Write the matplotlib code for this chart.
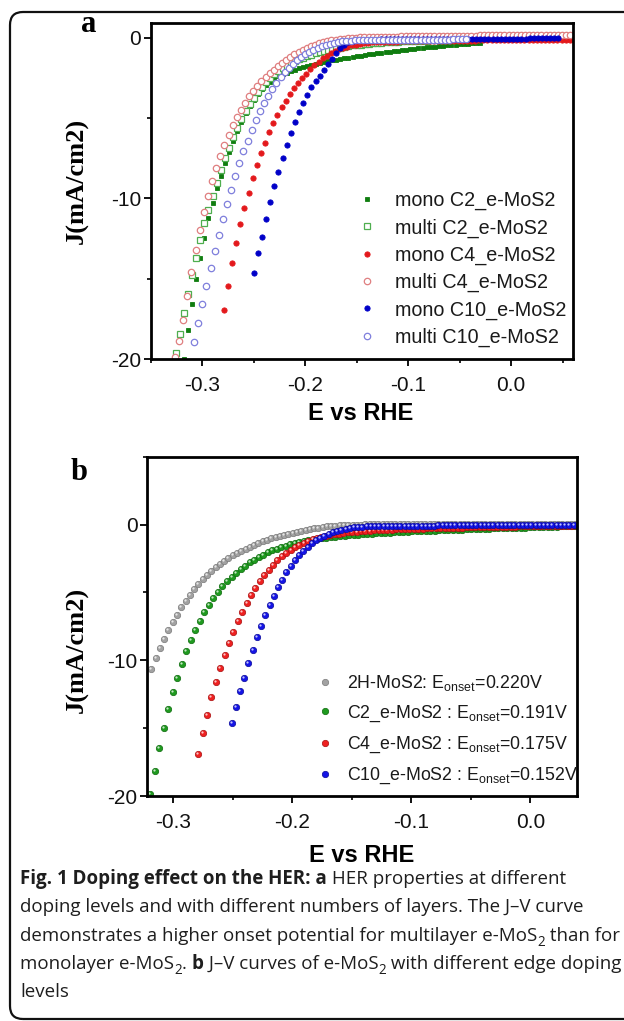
import numpy as np
import matplotlib
matplotlib.use('Agg')
import matplotlib.pyplot as plt
from matplotlib.patches import FancyBboxPatch
from matplotlib.ticker import MultipleLocator
import matplotlib.transforms as mtransforms

plt.rcParams['font.family'] = ['Liberation Sans', 'DejaVu Sans']
plt.rcParams['mathtext.fontset'] = 'custom'
plt.rcParams['mathtext.rm'] = 'Liberation Sans'
plt.rcParams['mathtext.it'] = 'Liberation Sans:italic'
plt.rcParams['mathtext.bf'] = 'Liberation Sans:bold'
plt.rcParams['axes.unicode_minus'] = False

# ---------------- Panel a data (E vs RHE in V, J in mA/cm2) ----------------
labels_a = ['mono C2_e-MoS2', 'multi C2_e-MoS2', 'mono C4_e-MoS2',
            'multi C4_e-MoS2', 'mono C10_e-MoS2', 'multi C10_e-MoS2']
step_a = 0.004
start_a = [-0.318, -0.326, -0.279, -0.3265, -0.250, -0.308]

J_monoC2 = [-20.0, -18.2, -16.57, -15.04, -13.69, -12.44, -11.24, -10.30, -9.33, -8.58,
            -7.77, -7.12, -6.42, -5.79, -5.21, -4.69, -4.24, -3.86, -3.49, -3.20,
            -2.93, -2.72, -2.50, -2.38, -2.27, -2.17, -2.07, -1.98, -1.89, -1.81,
            -1.74, -1.67, -1.61, -1.55, -1.50, -1.45, -1.40, -1.35, -1.31, -1.27,
            -1.23, -1.19, -1.15, -1.11, -1.07, -1.03, -1.00, -0.96, -0.93, -0.89,
            -0.86, -0.83, -0.80, -0.77, -0.74, -0.71, -0.68, -0.65, -0.62, -0.59,
            -0.57, -0.54, -0.52, -0.49, -0.47, -0.44, -0.42, -0.40, -0.38, -0.36,
            -0.34, -0.32, -0.30]
J_multiC2 = [-19.6, -18.46, -17.15, -15.95, -14.77, -13.69, -12.60, -11.55, -10.70, -9.85,
             -9.05, -8.25, -7.50, -6.85, -6.20, -5.62, -5.08, -4.58, -4.13, -3.73,
             -3.37, -3.05, -2.76, -2.50, -2.27, -2.07, -1.89, -1.73, -1.59, -1.46,
             -1.34, -1.23, -1.13, -1.04, -0.96, -0.89, -0.82, -0.76, -0.70, -0.65,
             -0.60, -0.55, -0.51, -0.47, -0.44, -0.41, -0.38, -0.35, -0.33, -0.31,
             -0.29, -0.27, -0.26, -0.24, -0.23, -0.22, -0.21, -0.20, -0.19, -0.18,
             -0.17, -0.16, -0.15, -0.14, -0.13, -0.12, -0.11, -0.10, -0.10, -0.09]
J_monoC4 = [-16.95, -15.45, -14.04, -12.75, -11.61, -10.61, -9.64, -8.74, -7.91, -7.19,
            -6.52, -5.88, -5.32, -4.80, -4.32, -3.90, -3.51, -3.14, -2.82, -2.51,
            -2.22, -1.95, -1.70, -1.47, -1.27, -1.10, -0.95, -0.82, -0.71, -0.62,
            -0.54, -0.47, -0.41, -0.36, -0.32, -0.29,
            -0.27, -0.26, -0.25, -0.24, -0.24, -0.23, -0.23, -0.22, -0.22, -0.21,
            -0.21, -0.20, -0.20, -0.20, -0.19, -0.19, -0.19, -0.18, -0.18, -0.18,
            -0.17, -0.17, -0.17, -0.16, -0.16, -0.16, -0.15, -0.15, -0.15, -0.14,
            -0.14, -0.14, -0.14, -0.13, -0.13, -0.13, -0.13, -0.12, -0.12, -0.12,
            -0.12, -0.11, -0.11, -0.11, -0.11, -0.10, -0.10, -0.10, -0.10, -0.10]
J_multiC4 = [-19.9, -18.9, -17.6, -16.1, -14.6, -13.2, -11.95, -10.85, -9.85, -8.93,
             -8.10, -7.35, -6.68, -6.05, -5.45, -4.92, -4.46, -4.03, -3.64, -3.30,
             -2.99, -2.70, -2.43, -2.18, -1.97, -1.76, -1.56, -1.37, -1.19, -1.03,
             -0.87, -0.73, -0.61, -0.50, -0.41, -0.33, -0.26, -0.20, -0.15, -0.11,
             -0.07, -0.04, -0.02, 0.00,
             0.02, 0.03, 0.04, 0.05, 0.06, 0.06, 0.07, 0.08, 0.08, 0.09,
             0.09, 0.10, 0.10, 0.11, 0.11, 0.11, 0.12, 0.12, 0.12, 0.13,
             0.13, 0.13, 0.14, 0.14, 0.14, 0.14, 0.15, 0.15, 0.15, 0.15,
             0.16, 0.16, 0.16, 0.16, 0.17, 0.17, 0.17, 0.17, 0.17, 0.18,
             0.18, 0.18, 0.18, 0.18, 0.19, 0.19, 0.19, 0.19, 0.19, 0.20,
             0.20, 0.20, 0.20]
J_monoC10 = [-14.66, -13.42, -12.38, -11.30, -10.22, -9.22, -8.33, -7.46, -6.67, -5.94,
             -5.25, -4.63, -4.03, -3.55, -3.07, -2.68, -2.35, -1.99, -1.65, -1.30,
             -0.95, -0.65, -0.42, -0.28, -0.18, -0.12,
             -0.11, -0.11, -0.10, -0.10, -0.10, -0.09, -0.09, -0.09, -0.09, -0.08,
             -0.08, -0.08, -0.08, -0.08, -0.07, -0.07, -0.07, -0.07, -0.07, -0.07,
             -0.06, -0.06, -0.06, -0.06, -0.06, -0.06, -0.05, -0.05, -0.05, -0.05,
             -0.05, -0.05, -0.05, -0.04, -0.04, -0.04, -0.04, -0.04, -0.04, -0.04,
             -0.04, -0.03, -0.03, -0.03, -0.03, -0.03, -0.03, -0.03, -0.03]
J_multiC10 = [-18.92, -17.74, -16.59, -15.45, -14.35, -13.27, -12.27, -11.30, -10.34, -9.45,
              -8.58, -7.81, -7.04, -6.40, -5.73, -5.11, -4.55, -4.07, -3.60, -3.18,
              -2.78, -2.45, -2.14, -1.86, -1.62, -1.40, -1.20, -1.03, -0.88, -0.75,
              -0.63, -0.53, -0.44, -0.37, -0.31, -0.26, -0.22, -0.19, -0.17, -0.15,
              -0.14, -0.14, -0.14, -0.13, -0.13, -0.13, -0.13, -0.12, -0.12, -0.12,
              -0.12, -0.12, -0.11, -0.11, -0.11, -0.11, -0.11, -0.10, -0.10, -0.10,
              -0.10, -0.10, -0.10, -0.09, -0.09, -0.09, -0.09]
J_a = [J_monoC2, J_multiC2, J_monoC4, J_multiC4, J_monoC10, J_multiC10]

# ---------------- Panel b data ----------------
labels_b = [r'2H-MoS2: E$_{\mathrm{onset}}$=0.220V',
            r'C2_e-MoS2 : E$_{\mathrm{onset}}$=0.191V',
            r'C4_e-MoS2 : E$_{\mathrm{onset}}$=0.175V',
            r'C10_e-MoS2 : E$_{\mathrm{onset}}$=0.152V']
start_b = [-0.3186, -0.3196, -0.2792, -0.2512]
step_b = [0.0036, 0.0038, 0.0037, 0.00355]

J_2H = [-10.65, -9.84, -9.10, -8.40, -7.78, -7.21, -6.64, -6.10, -5.61, -5.17,
        -4.75, -4.35, -4.01, -3.69, -3.39, -3.12, -2.88, -2.66, -2.46, -2.26,
        -2.09, -1.92, -1.77, -1.62, -1.48, -1.35, -1.23, -1.11, -1.01, -0.91,
        -0.81, -0.74, -0.66, -0.59, -0.52, -0.44,
        -0.38, -0.32, -0.27, -0.22, -0.18, -0.14, -0.11, -0.08, -0.06, -0.04, -0.02, -0.01,
        0.00, 0.00, 0.01, 0.01, 0.01, 0.01, 0.02, 0.02, 0.02, 0.02,
        0.02, 0.03, 0.03, 0.03, 0.03, 0.03, 0.03, 0.03, 0.04, 0.04,
        0.04, 0.04, 0.04, 0.04, 0.04, 0.04, 0.04, 0.05, 0.05, 0.05,
        0.05, 0.05, 0.05, 0.05, 0.05, 0.05, 0.05, 0.05, 0.05, 0.05,
        0.05, 0.05, 0.05, 0.05, 0.05, 0.05, 0.05, 0.05, 0.05, 0.05,
        0.05, 0.05]
J_C2 = [-19.87, -18.13, -16.48, -15.00, -13.60, -12.37, -11.27, -10.26, -9.35, -8.49,
        -7.75, -7.08, -6.47, -5.90, -5.41, -4.97, -4.55, -4.18, -3.86, -3.56,
        -3.27, -3.03, -2.78, -2.58, -2.39, -2.21, -2.04, -1.90, -1.77, -1.65,
        -1.55, -1.43, -1.35, -1.28,
        -1.22, -1.16, -1.11, -1.06, -1.01, -0.97, -0.93, -0.89, -0.86, -0.83,
        -0.80, -0.77, -0.74, -0.72, -0.69, -0.67, -0.65, -0.63, -0.61, -0.59,
        -0.57, -0.56, -0.54,
        -0.53, -0.51, -0.50, -0.49, -0.47, -0.46, -0.45, -0.43, -0.42, -0.41,
        -0.39, -0.38, -0.37, -0.35, -0.34, -0.33, -0.32, -0.31, -0.30, -0.29,
        -0.28, -0.27, -0.26, -0.25, -0.24, -0.23, -0.22, -0.21, -0.20, -0.19,
        -0.18, -0.17, -0.16, -0.15, -0.14, -0.13, -0.12, -0.12]
J_C4 = [-16.93, -15.37, -14.02, -12.74, -11.61, -10.58, -9.59, -8.73, -7.92, -7.13,
        -6.44, -5.78, -5.22, -4.67, -4.18, -3.74, -3.32, -2.95, -2.63, -2.34,
        -2.09, -1.85, -1.65, -1.48,
        -1.33, -1.20, -1.08, -0.98, -0.89, -0.82, -0.76, -0.71, -0.66, -0.62,
        -0.58, -0.55, -0.52, -0.49, -0.47, -0.45, -0.43, -0.41, -0.40, -0.38, -0.37,
        -0.36, -0.35, -0.34, -0.33, -0.32, -0.31, -0.30, -0.29, -0.28, -0.27,
        -0.26, -0.25, -0.24, -0.23, -0.22, -0.22, -0.21, -0.21, -0.20, -0.20,
        -0.19, -0.18, -0.18, -0.17, -0.16, -0.16, -0.15, -0.15, -0.14, -0.14,
        -0.13, -0.13, -0.12, -0.12, -0.11, -0.11, -0.10, -0.10, -0.09, -0.09,
        -0.08, -0.08]
J_C10 = [-14.59, -13.41, -12.30, -11.27, -10.20, -9.25, -8.31, -7.45, -6.64, -5.90,
         -5.24, -4.62, -4.06, -3.52, -3.03, -2.64, -2.26, -1.93,
         -1.63, -1.38, -1.16, -0.97, -0.81, -0.67, -0.55, -0.45, -0.37, -0.30,
         -0.25, -0.21, -0.18, -0.16, -0.14, -0.13, -0.12,
         -0.12, -0.11, -0.11, -0.10, -0.10, -0.09, -0.09, -0.09, -0.08, -0.08,
         -0.08, -0.07, -0.07, -0.07, -0.06, -0.06, -0.06, -0.06, -0.05, -0.05,
         -0.05, -0.05, -0.04, -0.04, -0.04, -0.04, -0.04, -0.03, -0.03, -0.03,
         -0.03, -0.03, -0.03, -0.02, -0.02, -0.02, -0.02, -0.02, -0.02, -0.02,
         -0.01, -0.01, -0.01, -0.01, -0.01, -0.01, -0.01]
J_b = [J_2H, J_C2, J_C4, J_C10]

# ---------------- styles ----------------
GREEN = '#0f7d0f'
LGREEN = '#4fae4f'
RED = '#e3191c'
PINK = '#df7f80'
BLUE = '#0000c8'
PURPLE = '#7f7fdc'
style_a = [dict(marker='s', ms=3.4, mfc=GREEN, mec=GREEN, mew=0.6),
           dict(marker='s', ms=4.2, mfc='white', mec=LGREEN, mew=0.9),
           dict(marker='o', ms=3.8, mfc=RED, mec=RED, mew=0.6),
           dict(marker='o', ms=4.6, mfc='white', mec=PINK, mew=0.9),
           dict(marker='o', ms=3.8, mfc=BLUE, mec=BLUE, mew=0.6),
           dict(marker='o', ms=4.6, mfc='white', mec=PURPLE, mew=0.9)]
colors_b = ['#a2a2a2', '#1f9a1f', '#ee2020', '#1414e6']
edges_b = ['#7a7a7a', '#0d6a0d', '#a81010', '#0a0a9a']

W, H = 624, 1021
fig = plt.figure(figsize=(W / 100, H / 100), dpi=100)

# outer rounded frame
frame = FancyBboxPatch((0.10, 0.02), 6.5, 10.07,
                       boxstyle='round,pad=0,rounding_size=0.13',
                       transform=fig.dpi_scale_trans, fill=False,
                       lw=1.6, ec='#111111')
fig.add_artist(frame)


def px_axes(l, t, r, b):
    return [l / W, 1 - b / H, (r - l) / W, (b - t) / H]


ax_a = fig.add_axes(px_axes(150.8, 22.7, 573.4, 359))
ax_b = fig.add_axes(px_axes(147.3, 456.7, 576.7, 796))

for ax in (ax_a, ax_b):
    for s in ax.spines.values():
        s.set_linewidth(2.0)
    ax.xaxis.set_major_locator(MultipleLocator(0.1))
    ax.xaxis.set_minor_locator(MultipleLocator(0.05))
    ax.yaxis.set_major_locator(MultipleLocator(10))
    ax.yaxis.set_minor_locator(MultipleLocator(5))
    ax.tick_params(which='major', direction='out', length=5, width=1.4,
                   labelsize=15, colors='#111111')
    ax.tick_params(which='minor', direction='out', length=3, width=1.2)
    ax.tick_params(axis='x', pad=7)
    ax.tick_params(axis='y', pad=2)

# panel a
for st, J, sty, lab in zip(start_a, J_a, style_a, labels_a):
    E = st + step_a * np.arange(len(J))
    ax_a.plot(E, J, ls='none', label=lab, **sty)
ax_a.set_xlim(-0.35, 0.0605)
ax_a.set_ylim(-20, 0.95)
leg_a = ax_a.legend(loc='upper left', bbox_to_anchor=(0.488, 0.4995),
                    frameon=False, fontsize=14.2, handlelength=1.0,
                    handletextpad=0.92, labelspacing=0.41, borderpad=0,
                    borderaxespad=0, numpoints=1)
for t in leg_a.get_texts():
    t.set_color('#1a1a1a')

# panel b (glossy spheres: base + highlight)
hl = mtransforms.offset_copy(ax_b.transData, fig=fig, x=-1.0, y=1.0, units='dots')
handles_b = []
for st, stp, J, c, ec, lab in zip(start_b, step_b, J_b, colors_b, edges_b, labels_b):
    E = st + stp * np.arange(len(J))
    ln, = ax_b.plot(E, J, ls='none', marker='o', ms=4.6, mfc=c, mec=ec,
                    mew=0.5, label=lab)
    ax_b.plot(E, J, ls='none', marker='o', ms=1.6, mfc='white', mec='none',
              alpha=0.75, transform=hl)
    handles_b.append(ln)
ax_b.set_xlim(-0.322, 0.039)
ax_b.set_ylim(-20, 5)
leg_b = ax_b.legend(handles=handles_b, loc='upper left',
                    bbox_to_anchor=(0.393, 0.363), frameon=False,
                    fontsize=12.8, handlelength=1.0, handletextpad=0.74,
                    labelspacing=0.60, borderpad=0, borderaxespad=0, numpoints=1)
for t in leg_b.get_texts():
    t.set_color('#1a1a1a')


def fy(y):
    return 1 - y / H


# axis labels and panel letters
for yc in (181, 650):
    fig.text(77 / W, fy(yc), 'J(mA/cm2)', rotation=90, ha='center', va='center',
             family=['Liberation Serif', 'DejaVu Serif'], fontweight='bold',
             fontsize=19)
fig.text(361 / W, fy(413), 'E vs RHE', ha='center', va='center',
         fontsize=17, fontweight='bold')
fig.text(362 / W, fy(855), 'E vs RHE', ha='center', va='center',
         fontsize=17, fontweight='bold')
fig.text(89 / W, fy(24), 'a', ha='center', va='center', fontsize=22,
         fontweight='bold', family=['Liberation Serif', 'DejaVu Serif'])
fig.text(79 / W, fy(473), 'b', ha='center', va='center', fontsize=22,
         fontweight='bold', family=['Liberation Serif', 'DejaVu Serif'])

# ---------------- caption ----------------
CAP_FONT = ['Open Sans', 'DejaVu Sans']
fig.canvas.draw()
rend = fig.canvas.get_renderer()


def seg_w(s, size, weight='normal'):
    t1 = fig.text(0, 0, s + '|', fontsize=size, fontweight=weight, family=CAP_FONT)
    w1 = t1.get_window_extent(rend).width
    t1.remove()
    t2 = fig.text(0, 0, '|', fontsize=size, fontweight=weight, family=CAP_FONT)
    w2 = t2.get_window_extent(rend).width
    t2.remove()
    return w1 - w2


cap_lines = [
    [('Fig. 1 Doping effect on the HER: a', 'bold', 0), (' HER properties at different', 'normal', 0)],
    [('doping levels and with different numbers of layers. The J\u2013V curve', 'normal', 0)],
    [('demonstrates a higher onset potential for multilayer e-MoS', 'normal', 0), ('2', 'normal', 1),
     (' than for', 'normal', 0)],
    [('monolayer e-MoS', 'normal', 0), ('2', 'normal', 1), ('. ', 'normal', 0), ('b', 'bold', 0),
     (' J\u2013V curves of e-MoS', 'normal', 0), ('2', 'normal', 1),
     (' with different edge doping', 'normal', 0)],
    [('levels', 'normal', 0)],
]


def line_width(segs, size):
    return sum(seg_w(s, size * (0.72 if sub else 1.0), w) for s, w, sub in segs)


base = 12.0
target = 598.0
cap_size = base * target / line_width(cap_lines[2], base)

x0 = 20.0
baselines = [884, 912, 941, 969, 997]
for segs, yb in zip(cap_lines, baselines):
    x = x0
    for s, w, sub in segs:
        sz = cap_size * (0.72 if sub else 1.0)
        dy = -0.28 * cap_size * 100 / 72 if sub else 0.0
        fig.text(x / W, fy(yb - dy), s, fontsize=sz, fontweight=w, family=CAP_FONT,
                 ha='left', va='baseline', color='#1e1e1e')
        x += seg_w(s, sz, w)

fig.savefig('out.png', dpi=100)
